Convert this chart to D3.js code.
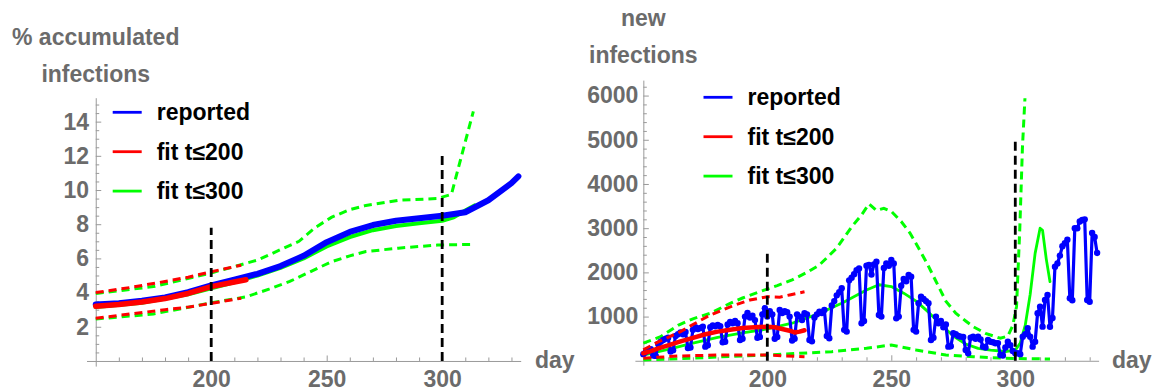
<!DOCTYPE html>
<html>
<head>
<meta charset="utf-8">
<script src="https://cdn.jsdelivr.net/npm/d3@7"></script>
<style>
  body { margin: 0; background: #fff; }
  svg text { font-family: "Liberation Sans", Arial, sans-serif; font-weight: bold; }
  .axis path, .axis line { stroke: #9a9a9a; stroke-width: 1; }
  .axis text { fill: #6b6b6b; font-size: 23px; }
</style>
</head>
<body>
<svg id="chart" width="1159" height="391"></svg>
<script>
// ---- left panel: % accumulated infections (day, %)
const cumReported = [[150, 3.3], [160, 3.38], [170, 3.52], [180, 3.72], [190, 4.02], [200, 4.42], [210, 4.75],
  [220, 5.1], [230, 5.55], [240, 6.15], [250, 6.95], [260, 7.55], [270, 7.95], [280, 8.2], [290, 8.35],
  [300, 8.5], [310, 8.7], [320, 9.4], [330, 10.4], [333, 10.8]]
const cumFit200 = [[150, 3.2], [160, 3.3], [170, 3.45], [180, 3.65], [190, 3.95], [200, 4.35], [210, 4.62], [215, 4.75]]
const cumFit200Hi = [[150, 4.0], [165, 4.3], [180, 4.65], [190, 4.9], [200, 5.22], [213, 5.6]]
const cumFit200Lo = [[150, 2.5], [165, 2.75], [180, 3.0], [190, 3.15], [200, 3.37], [213, 3.67]]
const cumFit300 = [[150, 3.15], [170, 3.4], [190, 3.9], [200, 4.25], [210, 4.6], [220, 5.0], [230, 5.45], [240, 6.0],
  [250, 6.7], [260, 7.25], [270, 7.65], [280, 7.9], [290, 8.05], [300, 8.2], [305, 8.4], [310, 8.8], [314, 9.1]]
const cumFit300Hi = [[150, 3.95], [175, 4.35], [200, 5.15], [220, 5.9], [238, 7.0], [245, 7.8], [252, 8.4], [260, 8.85],
  [267, 9.1], [281, 9.4], [298, 9.5], [304, 9.75], [308, 11.8], [313.5, 14.6]]
const cumFit300Lo = [[150, 2.45], [175, 2.75], [200, 3.4], [215, 3.75], [225, 4.2], [234, 4.65], [241, 5.1], [252, 5.8],
  [260, 6.15], [267, 6.4], [281, 6.6], [298, 6.78], [313, 6.82]]
const cumMarkers = [[200, 7.8], [300, 12]]

// ---- right panel: new infections per day, starting at day 150
const dailyStart = 150
const dailyReported = [
  150, 200, 230, 260, 120, 110, 380, 430, 470, 500,
  520, 210, 240, 560, 600, 640, 600, 650, 290, 300,
  700, 760, 720, 740, 770, 320, 350, 760, 800, 780,
  810, 780, 420, 430, 820, 880, 850, 900, 850, 470,
  500, 1000, 1080, 980, 1020, 920, 520, 540, 1050, 1190,
  1000, 1120, 1050, 500, 540, 1150, 1080, 1120, 1100, 1000,
  460, 500, 1050, 1000, 920, 1075, 1050, 470, 440, 980,
  1050, 1110, 1080, 1150, 560, 509, 1250, 1350, 1480, 1550,
  1640, 700, 660, 1820, 1880, 1960, 2050, 2090, 850, 900,
  2150, 2170, 1950, 2180, 2240, 1036, 1000, 2100, 2200, 2150,
  2280, 2200, 960, 1000, 1700, 1850, 1800, 1940, 1900, 700,
  660, 1300, 1450, 1400, 1350, 1300, 470, 520, 1000, 848,
  900, 760, 820, 320, 330, 622, 600, 560, 546, 540,
  244, 170, 520, 546, 500, 546, 480, 320, 300, 470,
  430, 420, 396, 400, 131, 120, 300, 432, 350, 220,
  170, 170, 150, 546, 600, 735, 546, 320, 432, 1075,
  1225, 772, 1376, 1489, 771, 968, 2130, 2200, 2380, 2590,
  2660, 2740, 1414, 1370, 3000, 3000, 3150, 3185, 3200, 1376,
  1337, 2890, 2800, 2440
]
const dailyFit200 = [[150, 170], [153, 220], [156, 280], [160, 350], [165, 440], [170, 520], [175, 600], [180, 660],
  [185, 700], [190, 740], [195, 760], [200, 770], [203, 760], [206, 720], [209, 680], [211, 640], [213, 660], [215, 690]]
const dailyFit200Hi = [[150, 250], [155, 400], [160, 530], [165, 660], [170, 820], [177, 1036], [182, 1150], [187, 1262],
  [193, 1375], [200, 1450], [205, 1440], [209, 1490], [215, 1560]]
const dailyFit200Lo = [[150, 60], [165, 110], [180, 130], [200, 130], [215, 90]]
const dailyFit300 = [[150, 130], [160, 260], [170, 400], [180, 530], [190, 630], [200, 720], [210, 850], [220, 1050],
  [230, 1300], [240, 1600], [245, 1720], [250, 1680], [255, 1530], [260, 1350], [265, 1100], [270, 820], [275, 560],
  [280, 380], [285, 280], [290, 240], [296, 210], [300, 240], [302, 400], [304, 800], [306, 1500], [308, 2430],
  [310, 3000], [311, 2950], [312.5, 2300], [314, 1790]]
const dailyFit300Hi = [[150, 400], [157, 546], [164, 800], [170, 950], [177, 1075], [185, 1300], [190, 1420], [197, 1564],
  [204, 1700], [210, 1830], [216, 2000], [221, 2167], [228, 2550], [234, 3030], [238, 3300], [241, 3550], [244, 3400],
  [247, 3450], [250, 3380], [254, 3150], [257.6, 2885], [261, 2550], [264.4, 2206], [268, 1800], [272, 1350],
  [276, 1075], [280, 900], [283, 772], [288, 620], [294, 509], [297, 560], [299, 800], [300.5, 1224], [301.8, 2960],
  [302.9, 4844], [303.9, 5940]]
const dailyFit300Lo = [[150, 20], [170, 60], [190, 110], [200, 130], [213, 170], [226, 206], [240, 283], [250, 357],
  [260, 244], [272, 131], [283, 93], [296, 56], [314, 40]]
const dailyMarkers = [[200, 2500], [300, 5000]]

// ---- ticks & labels
const xMajor = [200, 250, 300]
const xMinor = [160, 170, 180, 190, 210, 220, 230, 240, 260, 270, 280, 290, 310, 320, 330]
const cumTicks = [2, 4, 6, 8, 10, 12, 14]
const dailyTicks = [1000, 2000, 3000, 4000, 5000, 6000]
const legendNames = ['reported', 'fit t≤200', 'fit t≤300']
const legendColors = ['#0000ff', '#ff0000', '#00ff00']

const svg = d3.select('#chart')

function drawPanel (opt) {
  const x = d3.scaleLinear().domain(opt.xDomain).range(opt.xRange)
  const y = d3.scaleLinear().domain(opt.yDomain).range(opt.yRange)
  const g = svg.append('g')
  const line = d3.line().x(d => x(d[0])).y(d => y(d[1]))

  // axes
  g.append('g').attr('class', 'axis')
    .attr('transform', `translate(0,${y(0)})`)
    .call(d3.axisBottom(x).tickValues(xMajor).tickFormat(d3.format('d'))
      .tickSizeInner(-5.5).tickSizeOuter(0).tickPadding(10))
  g.append('g').attr('class', 'axis')
    .attr('transform', `translate(0,${y(0)})`)
    .call(d3.axisBottom(x).tickValues(xMinor).tickSize(-3.5).tickFormat(''))
    .select('.domain').remove()
  g.append('g').attr('class', 'axis')
    .attr('transform', `translate(${x(150)},0)`)
    .call(d3.axisLeft(y).tickValues(opt.yTicks).tickFormat(d3.format('d'))
      .tickSizeInner(-5.5).tickSizeOuter(0).tickPadding(opt.yPad))
  g.append('g').attr('class', 'axis')
    .attr('transform', `translate(${x(150)},0)`)
    .call(d3.axisLeft(y).tickValues(opt.yMinor).tickSize(-3.5).tickFormat(''))
    .select('.domain').remove()
  g.selectAll('.axis text').attr('font-size', 23)

  g.append('text').attr('x', opt.dayX).attr('y', y(0) + 7).attr('font-size', 23).attr('fill', '#6b6b6b').text('day')
  opt.title.forEach((t, i) => {
    g.append('text').attr('x', x(150)).attr('y', opt.titleY + i * 36.5)
      .attr('text-anchor', 'middle').attr('font-size', 23).attr('fill', '#6b6b6b').text(t)
  })

  const dashed = (data, color, w) => g.append('path').datum(data)
    .attr('fill', 'none').attr('stroke', color).attr('stroke-width', w)
    .attr('stroke-dasharray', '8,5').attr('d', line)
  const solid = (data, color, w) => g.append('path').datum(data)
    .attr('fill', 'none').attr('stroke', color).attr('stroke-width', w)
    .attr('stroke-linejoin', 'round').attr('stroke-linecap', 'round').attr('d', line)

  dashed(opt.fit300Lo, '#00ff00', 3)
  dashed(opt.fit300Hi, '#00ff00', 3)
  solid(opt.fit300, '#00ff00', opt.greenW)
  solid(opt.reported, '#0000ff', opt.blueW)
  if (opt.dots) {
    g.append('g').selectAll('circle').data(opt.reported).join('circle')
      .attr('cx', d => x(d[0])).attr('cy', d => y(d[1])).attr('r', 3.2).attr('fill', '#0000ff')
  }
  dashed(opt.fit200Lo, '#ff0000', 3)
  dashed(opt.fit200Hi, '#ff0000', 3)
  solid(opt.fit200, '#ff0000', opt.redW)

  opt.markers.forEach(m => {
    g.append('line').attr('x1', x(m[0])).attr('x2', x(m[0]))
      .attr('y1', y(0)).attr('y2', y(m[1]))
      .attr('stroke', '#000').attr('stroke-width', 2.8).attr('stroke-dasharray', '9,5')
  })

  // legend
  legendNames.forEach((name, i) => {
    const ly = opt.legendY + i * 39.4
    g.append('line').attr('x1', opt.legendX).attr('x2', opt.legendX + 29)
      .attr('y1', ly).attr('y2', ly).attr('stroke', legendColors[i]).attr('stroke-width', 2.8)
    g.append('text').attr('x', opt.legendX + 44).attr('y', ly + 8)
      .attr('font-size', 23).attr('fill', '#000').text(name)
  })
}

drawPanel({
  xDomain: [146, 334], xRange: [86.5, 520.7],
  yDomain: [-0.3, 15.4], yRange: [366.1, 97.7],
  yTicks: cumTicks, yMinor: d3.range(0.5, 15.1, 0.5).filter(v => v % 2 !== 0), yPad: 6.7,
  title: ['% accumulated', 'infections'], titleY: 45, dayX: 535,
  reported: cumReported, fit200: cumFit200, fit200Hi: cumFit200Hi, fit200Lo: cumFit200Lo,
  fit300: cumFit300, fit300Hi: cumFit300Hi, fit300Lo: cumFit300Lo,
  markers: cumMarkers, blueW: 6, redW: 5.5, greenW: 4, dots: false,
  legendX: 112.7, legendY: 112.3
})

drawPanel({
  xDomain: [146.6, 333.6], xRange: [634.9, 1098.6],
  yDomain: [-100, 6350], yRange: [365.2, 80.1],
  yTicks: dailyTicks, yMinor: d3.range(200, 6300, 200).filter(v => v % 1000 !== 0), yPad: 5,
  title: ['new', 'infections'], titleY: 26, dayX: 1112,
  reported: dailyReported.map((v, i) => [dailyStart + i, v]),
  fit200: dailyFit200, fit200Hi: dailyFit200Hi, fit200Lo: dailyFit200Lo,
  fit300: dailyFit300, fit300Hi: dailyFit300Hi, fit300Lo: dailyFit300Lo,
  markers: dailyMarkers, blueW: 3.2, redW: 4.5, greenW: 2.8, dots: true,
  legendX: 703.5, legendY: 97.3
})
</script>
</body>
</html>
